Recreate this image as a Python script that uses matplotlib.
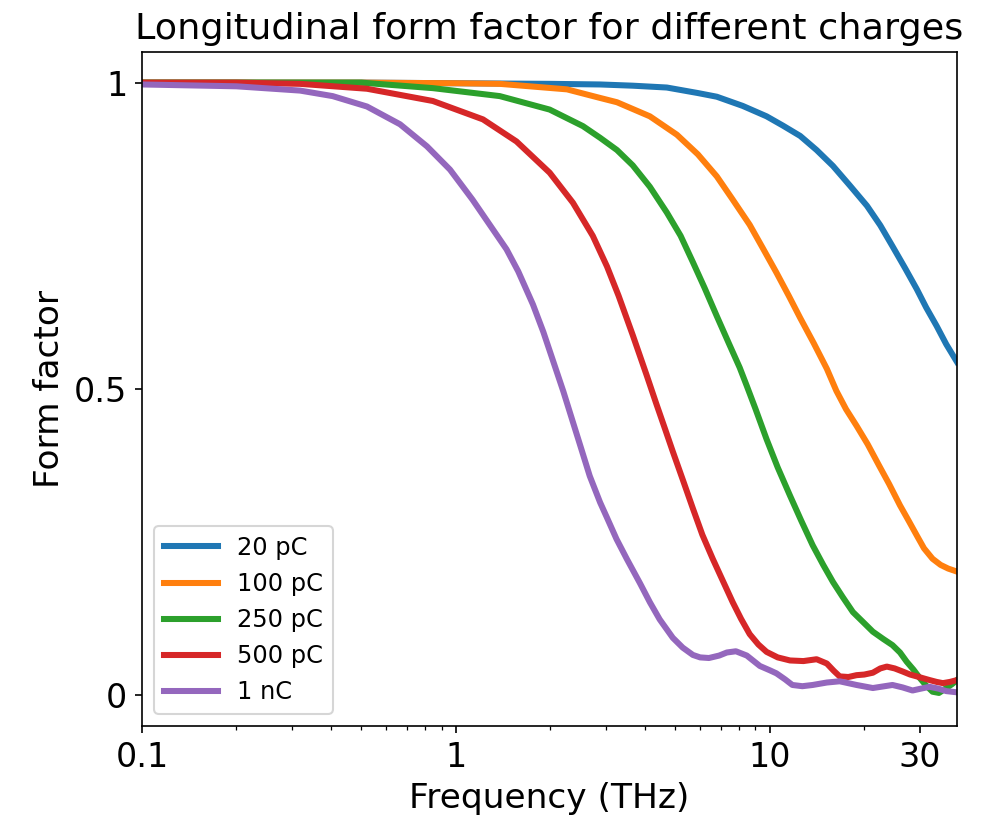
import matplotlib
matplotlib.use("Agg")
import matplotlib.pyplot as plt
from matplotlib.ticker import FixedLocator, FixedFormatter, LogLocator, NullFormatter

# Form factor values (frequency in THz)
f_20pc = [0.1, 0.5, 1, 2, 2.88, 3.66, 4.7, 5.9, 6.78, 8.2, 9.77, 11.0, 12.5,
          14.1, 15.9, 18.0, 20.4, 22.5, 24.6, 27, 29.4, 31.5, 34, 36.5, 39.5]
ff_20pc = [1.0, 1.0, 0.999, 0.998, 0.997, 0.995, 0.992, 0.983, 0.977, 0.962,
           0.945, 0.93, 0.913, 0.89, 0.864, 0.832, 0.799, 0.767, 0.733, 0.697,
           0.663, 0.633, 0.603, 0.573, 0.544]

f_100pc = [0.1, 0.5, 1, 1.38, 2.26, 2.88, 3.26, 4.15, 5.06, 5.9, 6.78, 7.6,
           8.63, 9.5, 10.5, 11.5, 12.5, 13.8, 15.2, 16.3, 17.5, 18.9, 20.5,
           22.3, 24, 26, 27.7, 29.4, 31, 33, 35, 37, 39.5]
ff_100pc = [1.0, 1.0, 0.999, 0.998, 0.989, 0.975, 0.968, 0.945, 0.915, 0.883,
            0.847, 0.81, 0.768, 0.73, 0.69, 0.652, 0.616, 0.575, 0.533, 0.497,
            0.467, 0.44, 0.41, 0.375, 0.345, 0.31, 0.285, 0.261, 0.24, 0.223,
            0.213, 0.207, 0.202]

f_250pc = [0.1, 0.5, 0.845, 1.38, 1.99, 2.54, 2.88, 3.26, 3.66, 4.15, 4.7, 5.2,
           5.69, 6.2, 6.78, 7.4, 8.02, 8.45, 9.0, 9.77, 10.6, 11.6, 12.6, 13.7,
           14.8, 15.9, 17.1, 18.4, 19.8, 21.3, 23, 24.6, 26, 27.3, 28.7, 30.1,
           31.5, 33, 34.6, 36.5, 38, 39.5]
ff_250pc = [1.0, 1.0, 0.991, 0.978, 0.956, 0.929, 0.91, 0.89, 0.865, 0.83,
            0.788, 0.75, 0.707, 0.665, 0.619, 0.575, 0.535, 0.505, 0.468, 0.418,
            0.372, 0.326, 0.285, 0.245, 0.213, 0.185, 0.16, 0.136, 0.12, 0.104,
            0.092, 0.082, 0.07, 0.055, 0.042, 0.028, 0.016, 0.006, 0.004, 0.012,
            0.018, 0.025]

f_500pc = [0.1, 0.2, 0.319, 0.521, 0.845, 1.22, 1.56, 1.99, 2.36, 2.73, 3.03,
           3.3, 3.66, 4.05, 4.35, 4.63, 4.91, 5.3, 5.69, 6.1, 6.58, 7.0, 7.62,
           8.1, 8.63, 9.2, 9.77, 10.6, 11.6, 12.8, 14.1, 15.2, 16.0, 16.7, 17.8,
           18.9, 20.0, 21.3, 22.5, 23.6, 25, 26.5, 28, 29.4, 30.8, 32.3, 34,
           35.6, 37.5, 39.5]
ff_500pc = [1.0, 1.0, 0.998, 0.99, 0.97, 0.94, 0.904, 0.853, 0.804, 0.75, 0.70,
            0.652, 0.588, 0.523, 0.476, 0.436, 0.398, 0.35, 0.305, 0.262, 0.223,
            0.193, 0.152, 0.125, 0.10, 0.083, 0.071, 0.062, 0.057, 0.056, 0.059,
            0.052, 0.04, 0.031, 0.03, 0.033, 0.034, 0.037, 0.044, 0.047, 0.044,
            0.039, 0.034, 0.031, 0.028, 0.025, 0.022, 0.02, 0.022, 0.025]

f_1nc = [0.1, 0.2, 0.319, 0.405, 0.521, 0.664, 0.809, 0.958, 1.13, 1.31, 1.45,
         1.58, 1.76, 1.9, 2.04, 2.2, 2.36, 2.5, 2.67, 2.88, 3.03, 3.25, 3.51,
         3.86, 4.15, 4.46, 4.91, 5.28, 5.69, 6.0, 6.4, 6.9, 7.3, 7.8, 8.45, 9.3,
         10.0, 10.5, 11.2, 11.8, 12.7, 13.7, 15.2, 16.7, 18.9, 21.3, 24.6, 26.5,
         28.5, 30.3, 32.3, 34.5, 36.5, 39.5]
ff_1nc = [0.997, 0.994, 0.987, 0.978, 0.961, 0.932, 0.896, 0.858, 0.809, 0.761,
          0.728, 0.692, 0.638, 0.593, 0.546, 0.496, 0.446, 0.405, 0.358, 0.315,
          0.29, 0.255, 0.222, 0.183, 0.152, 0.124, 0.094, 0.078, 0.066, 0.062,
          0.061, 0.065, 0.07, 0.072, 0.065, 0.048, 0.041, 0.036, 0.026, 0.017,
          0.015, 0.017, 0.021, 0.023, 0.017, 0.012, 0.017, 0.013, 0.008, 0.011,
          0.014, 0.011, 0.007, 0.005]

labels = ["20 pC", "100 pC", "250 pC", "500 pC", "1 nC"]
xticks = [0.1, 1, 10, 30]
xtick_labels = ["0.1", "1", "10", "30"]
yticks = [0, 0.5, 1]
ytick_labels = ["0", "0.5", "1"]

fig = plt.figure(figsize=(6.6, 5.4667), dpi=150)
ax = fig.add_axes([0.1434, 0.1146, 0.8233, 0.822])

series = [(f_20pc, ff_20pc), (f_100pc, ff_100pc), (f_250pc, ff_250pc),
          (f_500pc, ff_500pc), (f_1nc, ff_1nc)]
for (f, ff), lab in zip(series, labels):
    ax.plot(f, ff, lw=2.9, label=lab, solid_joinstyle="round")

ax.set_xscale("log")
ax.set_xlim(0.1, 39.5)
ax.set_ylim(-0.05, 1.05)
ax.xaxis.set_major_locator(FixedLocator(xticks))
ax.xaxis.set_major_formatter(FixedFormatter(xtick_labels))
ax.xaxis.set_minor_locator(LogLocator(base=10, subs=range(2, 10)))
ax.xaxis.set_minor_formatter(NullFormatter())
ax.set_yticks(yticks)
ax.set_yticklabels(ytick_labels)
ax.tick_params(labelsize=16)

ax.set_xlabel("Frequency (THz)", fontsize=16.5)
ax.set_ylabel("Form factor", fontsize=16.5)
ax.set_title("Longitudinal form factor for different charges", fontsize=17.5)
ax.legend(loc="lower left", fontsize=11.6, handlelength=2.25)

fig.savefig("out.png", dpi=150)
